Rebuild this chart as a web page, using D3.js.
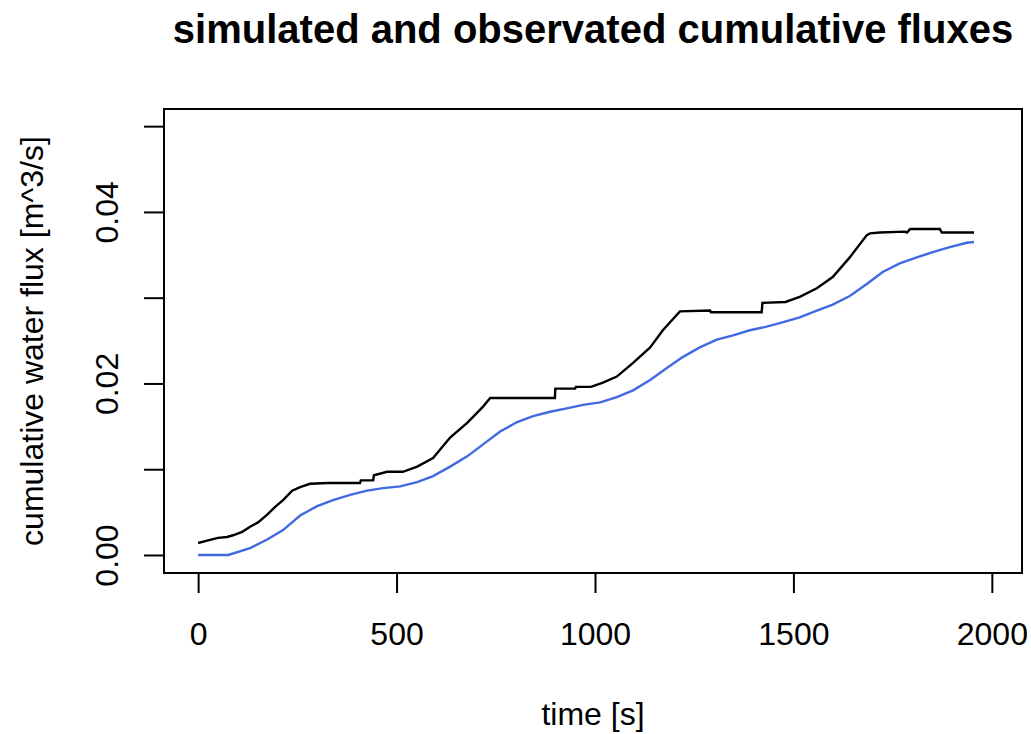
<!DOCTYPE html>
<html>
<head>
<meta charset="utf-8">
<script src="https://cdnjs.cloudflare.com/ajax/libs/d3/7.8.5/d3.min.js"></script>
<style>
  body { margin: 0; background: #fff; }
  text { font-family: "Liberation Sans", Arial, sans-serif; }
</style>
</head>
<body>
<div class="canvas"></div>
<script>
// observed cumulative flux (black)
const obsTime = [0, 25, 50, 73, 88, 111, 131, 151, 174, 194, 214, 237, 257, 282, 327, 408, 410, 441, 443, 476, 516, 552, 592,
  635, 678, 718, 736, 899, 900, 950, 952, 990, 1020, 1055, 1096, 1139, 1171, 1214, 1290, 1292, 1420, 1422, 1480,
  1516, 1559, 1599, 1642, 1685, 1693, 1718, 1781, 1786, 1794, 1869, 1874, 1955];
const obsFlux = [0.0014, 0.0017, 0.0020, 0.0021, 0.0023, 0.0027, 0.0033, 0.0038, 0.0047, 0.0056, 0.0064, 0.0075, 0.0079,
  0.0083, 0.0084, 0.0084, 0.0087, 0.0087, 0.0093, 0.0097, 0.0097, 0.0103, 0.0113, 0.0137, 0.0154, 0.0173, 0.0183,
  0.0183, 0.0194, 0.0194, 0.0196, 0.0196, 0.0201, 0.0208, 0.0224, 0.0242, 0.0262, 0.0284, 0.0285, 0.0283, 0.0283,
  0.0294, 0.0295, 0.0301, 0.0311, 0.0324, 0.0347, 0.0373, 0.0375, 0.0376, 0.0377, 0.0376, 0.0380, 0.0380, 0.0376, 0.0376];

// simulated cumulative flux (blue)
const simTime = [0, 76, 131, 174, 214, 257, 300, 340, 383, 426, 466, 509, 552, 592, 635, 678, 718, 761, 804, 844, 887,
  929, 970, 1013, 1055, 1096, 1139, 1181, 1222, 1264, 1307, 1348, 1390, 1430, 1470, 1516, 1559, 1599, 1642, 1685,
  1725, 1768, 1811, 1851, 1894, 1937, 1955];
const simFlux = [0, 0, 0.0008, 0.0018, 0.0029, 0.0046, 0.0057, 0.0064, 0.0070, 0.0075, 0.0078, 0.0080, 0.0085, 0.0092,
  0.0103, 0.0115, 0.0129, 0.0144, 0.0155, 0.0162, 0.0167, 0.0171, 0.0175, 0.0178, 0.0184, 0.0192, 0.0204, 0.0218,
  0.0231, 0.0242, 0.0251, 0.0256, 0.0262, 0.0266, 0.0271, 0.0277, 0.0285, 0.0292, 0.0302, 0.0316, 0.0330, 0.0340,
  0.0347, 0.0353, 0.0359, 0.0364, 0.0365];

const xTicks = [0, 500, 1000, 1500, 2000];
const yTicks = [0, 0.01, 0.02, 0.03, 0.04, 0.05];
const yLabels = ['0.00', '', '0.02', '', '0.04', ''];

const svg = d3.select('.canvas')
  .append('svg')
    .attr('width', 1031)
    .attr('height', 734);

const margin = {top: 109, right: 9, bottom: 161, left: 164};
const graphWidth = 1031 - margin.left - margin.right;
const graphHeight = 734 - margin.top - margin.bottom;

const graph = svg.append('g')
  .attr('transform', `translate(${margin.left}, ${margin.top})`);

// R style: data range padded by 4%
const x = d3.scaleLinear()
  .domain([-86, 2076])
  .range([0, graphWidth]);

const y = d3.scaleLinear()
  .domain([-0.0021, 0.0520])
  .range([graphHeight, 0]);

const xAxis = d3.axisBottom(x).tickValues(xTicks).tickSize(20).tickSizeOuter(0).tickFormat(d3.format('d'));
const yAxis = d3.axisLeft(y).tickValues(yTicks).tickSize(20).tickSizeOuter(0).tickFormat((d, i) => yLabels[i]);

const xAxisGroup = graph.append('g')
  .attr('transform', `translate(0, ${graphHeight})`)
  .call(xAxis);
const yAxisGroup = graph.append('g')
  .call(yAxis);

[xAxisGroup, yAxisGroup].forEach(g => {
  g.select('.domain').remove();
  g.selectAll('line').attr('stroke', '#000').attr('stroke-width', 2);
  g.selectAll('text').attr('fill', '#000').style('font-size', '32px');
});

xAxisGroup.selectAll('text')
  .attr('y', 72)
  .attr('dy', null);

yAxisGroup.selectAll('text')
  .attr('x', null)
  .attr('dy', null)
  .attr('text-anchor', 'middle')
  .attr('transform', 'translate(-46,0) rotate(-90)');

// lines
const line = d3.line()
  .x(d => x(d[0]))
  .y(d => y(d[1]));

graph.append('path')
  .datum(obsTime.map((t, i) => [t, obsFlux[i]]))
  .attr('d', line)
  .attr('fill', 'none')
  .attr('stroke', '#000')
  .attr('stroke-width', 2.4);

graph.append('path')
  .datum(simTime.map((t, i) => [t, simFlux[i]]))
  .attr('d', line)
  .attr('fill', 'none')
  .attr('stroke', '#4169e1')
  .attr('stroke-width', 2.4);

// box
graph.append('rect')
  .attr('width', graphWidth)
  .attr('height', graphHeight)
  .attr('fill', 'none')
  .attr('stroke', '#000')
  .attr('stroke-width', 2);

// titles
svg.append('text')
  .attr('x', margin.left + graphWidth / 2)
  .attr('y', 43)
  .attr('text-anchor', 'middle')
  .style('font-size', '40px')
  .style('font-weight', 'bold')
  .text('simulated and observated cumulative fluxes');

svg.append('text')
  .attr('x', margin.left + graphWidth / 2)
  .attr('y', 725)
  .attr('text-anchor', 'middle')
  .style('font-size', '32px')
  .text('time [s]');

svg.append('text')
  .attr('transform', `translate(43, ${margin.top + graphHeight / 2}) rotate(-90)`)
  .attr('text-anchor', 'middle')
  .style('font-size', '32px')
  .text('cumulative water flux [m^3/s]');
</script>
</body>
</html>
